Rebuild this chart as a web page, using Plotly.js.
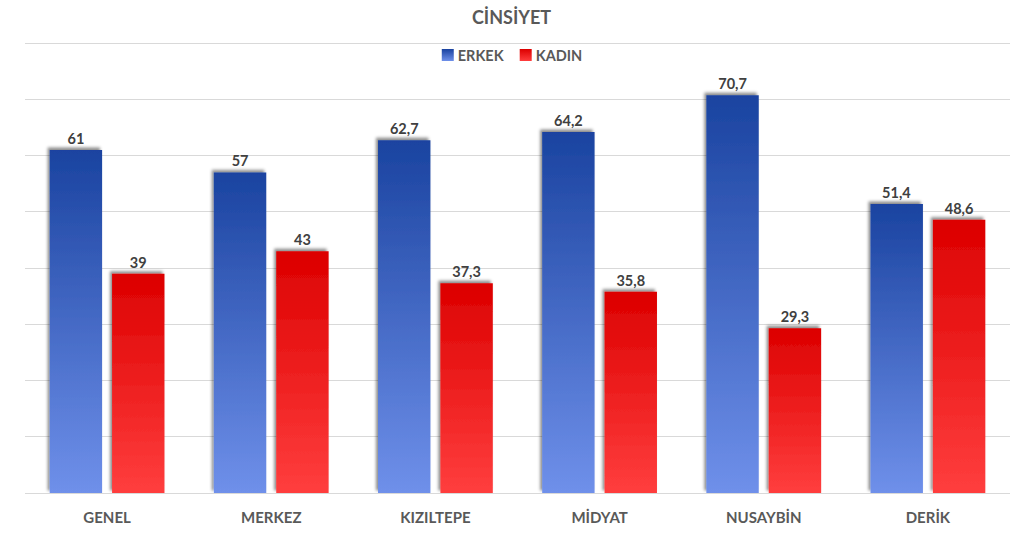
<!DOCTYPE html>
<html>
<head>
<meta charset="utf-8">
<script src="https://cdn.plot.ly/plotly-3.0.1.min.js"></script>
<style>
  html, body { margin: 0; padding: 0; background: #fff; }
  #chart { width: 1023px; height: 551px; }
</style>
</head>
<body>
<div id="chart"></div>
<script>
const categories = ['GENEL', 'MERKEZ', 'KIZILTEPE', 'MİDYAT', 'NUSAYBİN', 'DERİK'];
const erkek = [61, 57, 62.7, 64.2, 70.7, 51.4];
const kadin = [39, 43, 37.3, 35.8, 29.3, 48.6];
const seriesNames = ['ERKEK', 'KADIN'];
const chartTitle = 'CİNSİYET';

const fmt = v => String(v).replace('.', ',');
const FONT = 'Lato, "Open Sans", sans-serif';

const traces = [
  {
    type: 'bar', name: seriesNames[0], x: categories, y: erkek,
    text: erkek.map(fmt), textposition: 'outside', cliponaxis: false,
    textfont: { family: FONT, size: 14.5, color: '#404040', weight: 'bold' },
    marker: { color: '#2a52b8' }, hoverinfo: 'none'
  },
  {
    type: 'bar', name: seriesNames[1], x: categories, y: kadin,
    text: kadin.map(fmt), textposition: 'outside', cliponaxis: false,
    textfont: { family: FONT, size: 14.5, color: '#404040', weight: 'bold' },
    marker: { color: '#ee1c1c' }, hoverinfo: 'none'
  }
];

const layout = {
  width: 1023, height: 551,
  paper_bgcolor: '#ffffff', plot_bgcolor: '#ffffff',
  margin: { l: 25, r: 13, t: 41, b: 58 },
  font: { family: FONT, color: '#595959' },
  title: {
    text: chartTitle, x: 0.5, xanchor: 'center', y: 0.967, yanchor: 'middle', yref: 'container',
    font: { family: FONT, size: 18, color: '#595959', weight: 'bold' }
  },
  showlegend: true,
  legend: {
    orientation: 'h', x: 0.5, xanchor: 'center', y: 1.004, yanchor: 'top',
    font: { family: FONT, size: 14.5, color: '#595959', weight: 'bold' },
    itemwidth: 30, bgcolor: 'rgba(0,0,0,0)', traceorder: 'normal'
  },
  barmode: 'group', bargap: 0.24, bargroupgap: 0.16,
  xaxis: {
    type: 'category', showgrid: false, zeroline: false, showline: false, ticks: '',
    tickfont: { family: FONT, size: 15, color: '#595959', weight: 'bold' },
    ticklabelstandoff: 14
  },
  yaxis: {
    range: [0, 80.36], tickvals: [10, 20, 30, 40, 50, 60, 70, 80], showticklabels: false, ticks: '',
    gridcolor: '#d9d9d9', gridwidth: 1, zeroline: true, zerolinecolor: '#d9d9d9', zerolinewidth: 1,
    showline: false
  }
};

Plotly.newPlot('chart', traces, layout, { displayModeBar: false, staticPlot: true }).then(gd => {
  const svg = gd.querySelector('.main-svg');
  const ns = 'http://www.w3.org/2000/svg';
  let defs = svg.querySelector('defs');
  if (!defs) { defs = document.createElementNS(ns, 'defs'); svg.insertBefore(defs, svg.firstChild); }
  const mkGrad = (id, top, bottom) => {
    const g = document.createElementNS(ns, 'linearGradient');
    g.setAttribute('id', id);
    g.setAttribute('x1', '0'); g.setAttribute('y1', '0');
    g.setAttribute('x2', '0'); g.setAttribute('y2', '1');
    [[0, top], [1, bottom]].forEach(([o, c]) => {
      const s = document.createElementNS(ns, 'stop');
      s.setAttribute('offset', o); s.setAttribute('stop-color', c);
      g.appendChild(s);
    });
    defs.appendChild(g);
  };
  mkGrad('gradBlue', '#1a43a0', '#6f90ea');
  mkGrad('gradRed', '#dc0000', '#ff3e3e');
  const f = document.createElementNS(ns, 'filter');
  f.setAttribute('id', 'barShadow');
  f.setAttribute('x', '-20%'); f.setAttribute('y', '-20%');
  f.setAttribute('width', '140%'); f.setAttribute('height', '140%');
  const ds = document.createElementNS(ns, 'feDropShadow');
  ds.setAttribute('dx', '-2'); ds.setAttribute('dy', '-2.5');
  ds.setAttribute('stdDeviation', '1.5');
  ds.setAttribute('flood-color', '#000'); ds.setAttribute('flood-opacity', '0.45');
  f.appendChild(ds);
  defs.appendChild(f);

  const grads = ['url(#gradBlue)', 'url(#gradRed)'];
  gd.querySelectorAll('.barlayer .trace.bars').forEach((tr, i) => {
    tr.querySelectorAll('.point path').forEach(p => {
      p.style.fill = grads[i];
      p.setAttribute('filter', 'url(#barShadow)');
    });
  });

  // legend: tighter swatch-to-text spacing like the reference
  const items = Array.from(gd.querySelectorAll('.legend .traces'));
  const parseT = el => {
    const m = /translate\(\s*([-\d.]+)[ ,]+([-\d.]+)\s*\)/.exec(el.getAttribute('transform') || '');
    return m ? [parseFloat(m[1]), parseFloat(m[2])] : [0, 0];
  };
  items.forEach((tr, i) => {
    const sp = tr.querySelector('.legendpoints path');
    if (sp) sp.style.fill = grads[i];
    const t = tr.querySelector('text.legendtext');
    if (sp && t) {
      const sr = sp.getBoundingClientRect();
      const tr0 = t.getBoundingClientRect();
      const want = (sr.left + sr.right) / 2 + 10;
      const curX = parseFloat(t.getAttribute('x')) || 0;
      t.setAttribute('x', curX + (want - tr0.left));
    }
  });
  if (items.length === 2) {
    const t0 = items[0].querySelector('text.legendtext').getBoundingClientRect();
    const s1 = items[1].querySelector('.legendpoints path').getBoundingClientRect();
    const [x1, y1] = parseT(items[1]);
    items[1].setAttribute('transform', `translate(${x1 + (t0.right + 15 - s1.left)},${y1})`);
    const sw = items[0].querySelector('.legendpoints path').getBoundingClientRect();
    const te = items[1].querySelector('text.legendtext').getBoundingClientRect();
    const dx = 512 - (sw.left + te.right) / 2;
    items.forEach(tr => {
      const [x, y] = parseT(tr);
      tr.setAttribute('transform', `translate(${x + dx},${y})`);
    });
  }
});
</script>
</body>
</html>
